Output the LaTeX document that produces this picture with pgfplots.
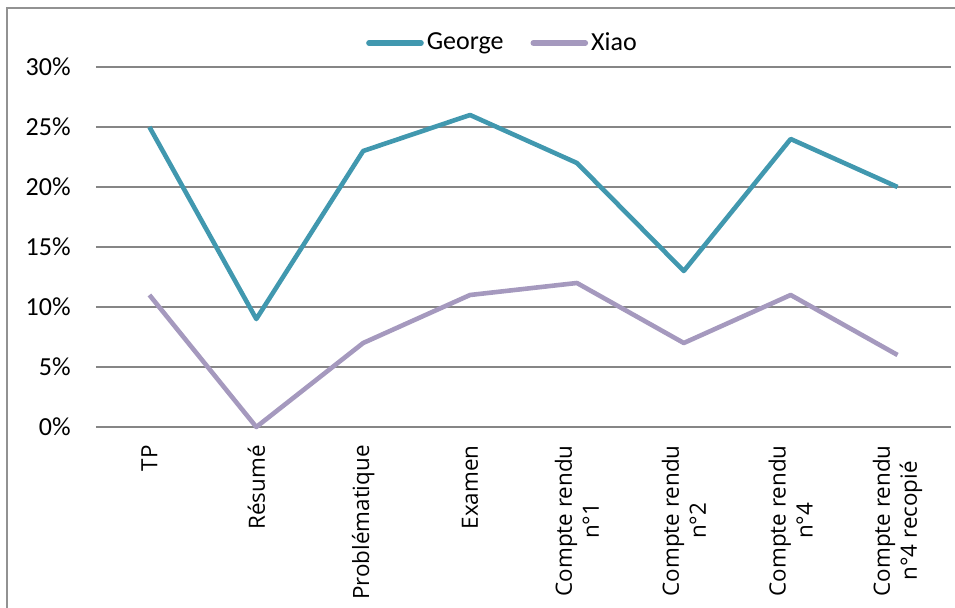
\documentclass[border=0pt]{standalone}
\usepackage{fontspec}
\setmainfont{Carlito}
\newfontfamily\xfont{Open Sans}
\newcommand\xl[1]{{\xfont\fontsize{11.2pt}{13.5pt}\selectfont #1}}
\usepackage{pgfplots}
\pgfplotsset{compat=1.18}
\definecolor{george}{RGB}{65,152,175}
\definecolor{xiao}{RGB}{165,153,190}
\definecolor{gridgray}{RGB}{134,134,134}
\begin{document}
\begin{tikzpicture}
\useasboundingbox (0,0) rectangle (477.5pt,304pt);
\draw[gridgray!90, line width=0.8pt] (3.5pt,0pt) -- (3.5pt,300pt) -- (480pt,300pt);
\begin{axis}[
  at={(48pt,90.5pt)}, anchor=south west,
  scale only axis, width=427.5pt, height=180pt,
  xmin=-0.5, xmax=7.5, ymin=0, ymax=30,
  axis line style={draw=none}, tick style={draw=none}, clip=false,
  xtick={0,...,7},
  xticklabels={\xl{TP}, \xl{Résumé}, \xl{Problématique}, \xl{Examen}, {\xl{Compte rendu}\\\xl{n°1}}, {\xl{Compte rendu}\\\xl{n°2}}, {\xl{Compte rendu}\\\xl{n°4}}, {\xl{Compte rendu}\\\xl{n°4 recopié}}},
  xticklabel style={rotate=90, anchor=east, align=center, inner sep=0pt, xshift=-9pt, font=\xfont\fontsize{11.2pt}{13.5pt}\selectfont},
  ytick={0,5,...,30},
  yticklabel={\pgfmathprintnumber{\tick}\%},
  yticklabel style={anchor=east, inner sep=0pt, xshift=-12.5pt, font=\fontsize{13pt}{15pt}\selectfont},
  /pgf/number format/assume math mode=true,
  major tick length=0pt,
  ymajorgrids, grid style={gridgray, line width=0.75pt},
  legend columns=2,
  legend style={at={(0.476,1.0)}, anchor=center, yshift=12pt, draw=none, fill=none,
    font=\fontsize{13pt}{15pt}\selectfont,
    nodes={inner sep=1.5pt},
    /tikz/every even column/.append style={column sep=12pt}},
  legend image code/.code={\draw[#1, line width=2.8pt, line cap=round] (0pt,0pt) -- (26pt,0pt);},
  every axis plot/.append style={line width=2.3pt, line join=round, mark=none},
]
\addplot[george] coordinates {(0,25) (1,9) (2,23) (3,26) (4,22) (5,13) (6,24) (7,20)};
\addlegendentry{George}
\addplot[xiao] coordinates {(0,11) (1,0) (2,7) (3,11) (4,12) (5,7) (6,11) (7,6)};
\addlegendentry{Xiao}
\end{axis}
\end{tikzpicture}
\end{document}
